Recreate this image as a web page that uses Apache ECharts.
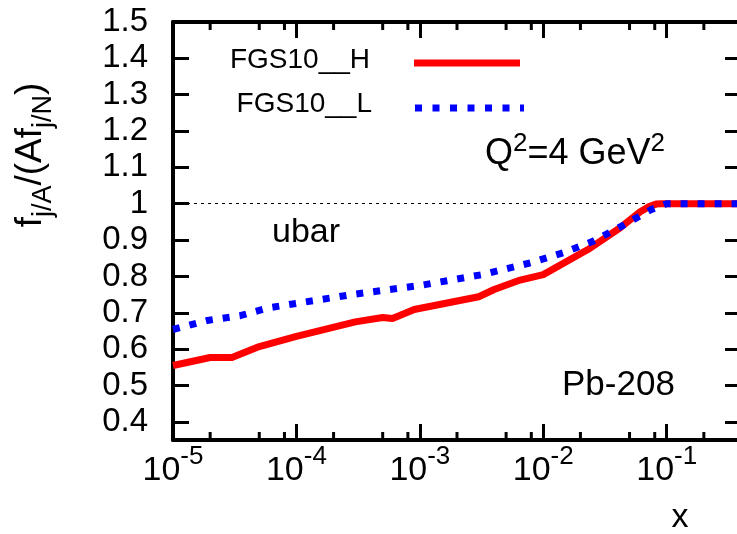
<!DOCTYPE html>
<html>
<head>
<meta charset="utf-8">
<script src="https://cdn.jsdelivr.net/npm/echarts@6/dist/echarts.min.js"></script>
<style>
  html, body { margin: 0; padding: 0; background: #fff; }
  #chart { width: 737px; height: 534px; }
</style>
</head>
<body>
<div id="chart"></div>
<script>
// FGS10_H curve
const xH = [1e-5, 2e-5, 3e-5, 5e-5, 1e-4, 3e-4, 5e-4, 6e-4, 9e-4, 3e-3, 4e-3, 6.5e-3, 1e-2, 2.3e-2, 4.2e-2, 6.1e-2, 7.2e-2, 8.2e-2, 9e-2, 0.4]
const yH = [0.555, 0.577, 0.577, 0.607, 0.635, 0.675, 0.687, 0.684, 0.709, 0.744, 0.764, 0.79, 0.805, 0.874, 0.934, 0.978, 0.992, 0.999, 1.0, 1.0]
// FGS10_L curve
const xL = [1e-5, 1.9e-5, 3.5e-5, 6e-5, 1.55e-4, 2.8e-4, 1e-3, 3.2e-3, 8e-3, 1.45e-2, 2.5e-2, 4.4e-2, 7.5e-2, 0.1, 0.4]
const yL = [0.654, 0.679, 0.692, 0.714, 0.736, 0.75, 0.775, 0.805, 0.838, 0.865, 0.896, 0.94, 0.984, 1.0, 1.0]
// ticks
const yTicks = [0.4, 0.5, 0.6, 0.7, 0.8, 0.9, 1, 1.1, 1.2, 1.3, 1.4, 1.5]
const xMinorTicks = [2e-5, 5e-5, 8e-5, 2e-4, 5e-4, 8e-4, 2e-3, 5e-3, 8e-3, 2e-2, 5e-2, 8e-2, 2e-1]

const FONT = "'Liberation Sans', Arial, sans-serif"
const chart = echarts.init(document.getElementById('chart'))

const axisLine = () => ({ show: true, onZero: false, lineStyle: { color: '#000', width: 4 } })
const majorTick = (extra) => Object.assign({ show: true, inside: true, length: 16, lineStyle: { color: '#000', width: 3 } }, extra)

const option = {
  animation: false,
  backgroundColor: '#fff',
  grid: { left: 173, top: 22, right: -4, bottom: 94, outerBoundsMode: 'none', containLabel: false },
  xAxis: [
    {
      type: 'log', min: 1e-5, max: 0.4, position: 'bottom',
      axisLine: axisLine(), axisTick: majorTick(), splitLine: { show: false },
      axisLabel: {
        margin: 13, showMaxLabel: false, color: '#000',
        formatter: v => '{b|10}{s|' + Math.round(Math.log10(v)) + '}',
        rich: {
          b: { fontSize: 34, lineHeight: 36, fontFamily: FONT, color: '#000' },
          s: { fontSize: 26, lineHeight: 26, padding: [0, 0, 28, 0], fontFamily: FONT, color: '#000' }
        }
      }
    },
    {
      type: 'log', min: 1e-5, max: 0.4, position: 'top',
      axisLine: axisLine(), axisTick: majorTick(), axisLabel: { show: false }, splitLine: { show: false }
    }
  ],
  yAxis: [
    {
      type: 'value', min: 0.35, max: 1.5, position: 'left',
      axisLine: axisLine(), axisTick: majorTick({ customValues: yTicks }),
      axisLabel: { customValues: yTicks, margin: 25, fontSize: 33, fontFamily: FONT, color: '#000' },
      splitLine: { show: false }
    },
    {
      type: 'value', min: 0.35, max: 1.5, position: 'right',
      axisLine: axisLine(), axisTick: majorTick({ customValues: yTicks }),
      axisLabel: { show: false }, splitLine: { show: false }
    }
  ],
  series: [
    {
      // minor ticks of the log axis
      type: 'custom',
      data: xMinorTicks.map(v => [v, 1]),
      renderItem: (params, api) => {
        const x = api.coord([api.value(0), 1])[0]
        const cs = params.coordSys
        const st = { stroke: '#000', lineWidth: 3 }
        return {
          type: 'group',
          children: [
            { type: 'line', shape: { x1: x, y1: cs.y + cs.height, x2: x, y2: cs.y + cs.height - 8 }, style: st },
            { type: 'line', shape: { x1: x, y1: cs.y, x2: x, y2: cs.y + 8 }, style: st }
          ]
        }
      }
    },
    {
      name: 'FGS10_H', type: 'line', showSymbol: false,
      data: xH.map((x, i) => [x, yH[i]]),
      lineStyle: { color: '#ff0000', width: 7, cap: 'butt', join: 'round' },
      markLine: {
        silent: true, symbol: 'none', label: { show: false }, z: 1,
        lineStyle: { color: '#000', width: 1, type: [3, 4] },
        data: [{ yAxis: 1 }]
      }
    },
    {
      name: 'FGS10_L', type: 'line', showSymbol: false,
      data: xL.map((x, i) => [x, yL[i]]),
      lineStyle: { color: '#0000ff', width: 7, type: [7, 10], cap: 'butt' }
    }
  ],
  graphic: [
    // legend
    { type: 'text', x: 370, y: 60, style: { text: 'FGS10__H', fontSize: 28, fontFamily: FONT, fill: '#000', align: 'right', verticalAlign: 'middle' } },
    { type: 'line', shape: { x1: 414, y1: 63, x2: 520, y2: 63 }, style: { stroke: '#ff0000', lineWidth: 7 } },
    { type: 'text', x: 372, y: 104, style: { text: 'FGS10__L', fontSize: 28, fontFamily: FONT, fill: '#000', align: 'right', verticalAlign: 'middle' } },
    { type: 'line', shape: { x1: 415, y1: 108, x2: 524, y2: 108 }, style: { stroke: '#0000ff', lineWidth: 7, lineDash: [7, 10.5] } },
    // annotations
    {
      type: 'text', x: 485, y: 154,
      style: {
        text: '{m|Q}{s|2}{m|=4 GeV}{s|2}', align: 'left', verticalAlign: 'middle',
        rich: {
          m: { fontSize: 36, lineHeight: 40, fontFamily: FONT, fill: '#000' },
          s: { fontSize: 26, lineHeight: 26, padding: [0, 0, 20, 0], fontFamily: FONT, fill: '#000' }
        }
      }
    },
    { type: 'text', x: 272, y: 233, style: { text: 'ubar', fontSize: 34, fontFamily: FONT, fill: '#000', align: 'left', verticalAlign: 'middle' } },
    { type: 'text', x: 562, y: 385, style: { text: 'Pb-208', fontSize: 35, fontFamily: FONT, fill: '#000', align: 'left', verticalAlign: 'middle' } },
    { type: 'text', x: 680, y: 518, style: { text: 'x', fontSize: 34, fontFamily: FONT, fill: '#000', align: 'center', verticalAlign: 'middle' } },
    // y axis title
    {
      type: 'text', x: 31, y: 155, rotation: Math.PI / 2,
      style: {
        text: '{m|f}{s|j/A}{m|/(Af}{s|j/N}{m|)}', align: 'center', verticalAlign: 'middle',
        rich: {
          m: { fontSize: 37, lineHeight: 42, fontFamily: FONT, fill: '#000' },
          s: { fontSize: 27, lineHeight: 27, padding: [26, 0, 0, 0], fontFamily: FONT, fill: '#000' }
        }
      }
    }
  ]
}

chart.setOption(option)
// paint straight away, and again a little later, without rebuilding the chart
chart.getZr().refreshImmediately()
setTimeout(() => { chart.getZr().refreshImmediately(); document.body.setAttribute('data-ready', '1') }, 60)
setTimeout(() => { chart.getZr().refreshImmediately() }, 400)
</script>
</body>
</html>
